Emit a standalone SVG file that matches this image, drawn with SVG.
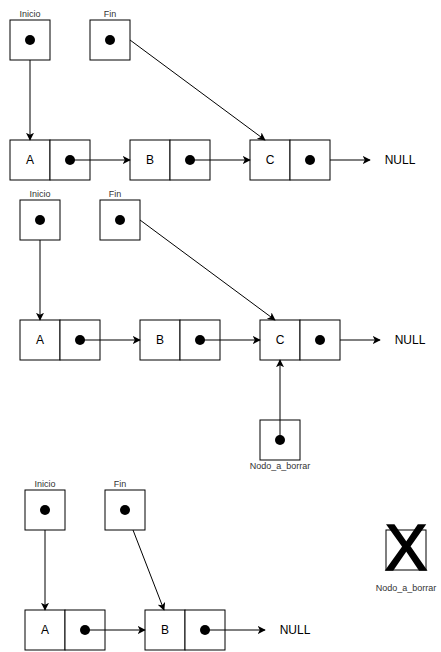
<svg xmlns="http://www.w3.org/2000/svg" width="441" height="652" viewBox="0 0 441 652">
  <style>
    .box { fill: #fff; stroke: #000; stroke-width: 1; }
    .dot { fill: #000; }
    .lbl { font-family: "Liberation Sans", Arial, sans-serif; font-size: 9px; fill: #333; text-anchor: middle; }
    .val { font-family: "Liberation Sans", Arial, sans-serif; font-size: 12px; fill: #000; text-anchor: middle; }
    .edge { fill: none; stroke: #000; stroke-width: 1; marker-end: url(#arrow); }
  </style>
  <defs>
    <marker id="arrow" viewBox="0 0 10 10" refX="9" refY="5" markerWidth="8" markerHeight="8" markerUnits="userSpaceOnUse" orient="auto">
      <path d="M0,0 L10,5 L0,10 L2.5,5 Z" fill="#000"/>
    </marker>
  </defs>

  <!-- list 1 -->
  <g id="inicio1"><rect class="box" x="10" y="20" width="40" height="40"/><circle class="dot" cx="30" cy="40" r="5"/><text class="lbl" x="30" y="17">Inicio</text></g>
  <g id="fin1"><rect class="box" x="90" y="20" width="40" height="40"/><circle class="dot" cx="110" cy="40" r="5"/><text class="lbl" x="110" y="17">Fin</text></g>
  <g id="a1"><rect class="box" x="10" y="140" width="40" height="40"/><rect class="box" x="50" y="140" width="40" height="40"/><text class="val" x="30" y="164">A</text><circle class="dot" cx="70" cy="160" r="5"/></g>
  <g id="b1"><rect class="box" x="130" y="140" width="40" height="40"/><rect class="box" x="170" y="140" width="40" height="40"/><text class="val" x="150" y="164">B</text><circle class="dot" cx="190" cy="160" r="5"/></g>
  <g id="c1"><rect class="box" x="250" y="140" width="40" height="40"/><rect class="box" x="290" y="140" width="40" height="40"/><text class="val" x="270" y="164">C</text><circle class="dot" cx="310" cy="160" r="5"/></g>
  <g id="null1"><text class="val" x="400" y="164">NULL</text></g>

  <!-- list 2 -->
  <g id="inicio2"><rect class="box" x="20" y="200" width="40" height="40"/><circle class="dot" cx="40" cy="220" r="5"/><text class="lbl" x="40" y="197">Inicio</text></g>
  <g id="fin2"><rect class="box" x="100" y="200" width="40" height="40"/><circle class="dot" cx="120" cy="220" r="5"/><text class="lbl" x="115" y="197">Fin</text></g>
  <g id="a2"><rect class="box" x="20" y="320" width="40" height="40"/><rect class="box" x="60" y="320" width="40" height="40"/><text class="val" x="40" y="344">A</text><circle class="dot" cx="80" cy="340" r="5"/></g>
  <g id="b2"><rect class="box" x="140" y="320" width="40" height="40"/><rect class="box" x="180" y="320" width="40" height="40"/><text class="val" x="160" y="344">B</text><circle class="dot" cx="200" cy="340" r="5"/></g>
  <g id="c2"><rect class="box" x="260" y="320" width="40" height="40"/><rect class="box" x="300" y="320" width="40" height="40"/><text class="val" x="280" y="344">C</text><circle class="dot" cx="320" cy="340" r="5"/></g>
  <g id="null2"><text class="val" x="410" y="344">NULL</text></g>
  <g id="borrar2"><rect class="box" x="260" y="420" width="40" height="40"/><circle class="dot" cx="280" cy="440" r="5"/><text class="lbl" x="280" y="469">Nodo_a_borrar</text></g>

  <!-- list 3 -->
  <g id="inicio3"><rect class="box" x="25" y="490" width="40" height="40"/><circle class="dot" cx="45" cy="510" r="5"/><text class="lbl" x="45" y="487">Inicio</text></g>
  <g id="fin3"><rect class="box" x="105" y="490" width="40" height="40"/><circle class="dot" cx="125" cy="510" r="5"/><text class="lbl" x="120" y="487">Fin</text></g>
  <g id="a3"><rect class="box" x="25" y="610" width="40" height="40"/><rect class="box" x="65" y="610" width="40" height="40"/><text class="val" x="45" y="634">A</text><circle class="dot" cx="85" cy="630" r="5"/></g>
  <g id="b3"><rect class="box" x="145" y="610" width="40" height="40"/><rect class="box" x="185" y="610" width="40" height="40"/><text class="val" x="165" y="634">B</text><circle class="dot" cx="205" cy="630" r="5"/></g>
  <g id="null3"><text class="val" x="295" y="634">NULL</text></g>

  <!-- deleted node -->
  <g id="borrado"><rect class="box" x="386" y="530" width="40" height="40"/><text x="406" y="570" font-family="Liberation Sans, Arial, sans-serif" font-size="64" text-anchor="middle" fill="#000" stroke="#000" stroke-width="1.5">X</text><text class="lbl" x="406" y="591">Nodo_a_borrar</text></g>

  <!-- connectors, drawn over the nodes so pointer lines start at the dots -->
  <g id="connectors">
    <!-- list 1 -->
    <line class="edge" x1="30" y1="60" x2="30" y2="140"/>
    <line class="edge" x1="130" y1="40" x2="265" y2="140"/>
    <line class="edge" x1="70" y1="160" x2="130" y2="160"/>
    <line class="edge" x1="190" y1="160" x2="250" y2="160"/>
    <line class="edge" x1="330" y1="160" x2="370" y2="160"/>
    <!-- list 2 -->
    <line class="edge" x1="40" y1="240" x2="40" y2="320"/>
    <line class="edge" x1="140" y1="220" x2="275" y2="320"/>
    <line class="edge" x1="80" y1="340" x2="140" y2="340"/>
    <line class="edge" x1="200" y1="340" x2="260" y2="340"/>
    <line class="edge" x1="340" y1="340" x2="380" y2="340"/>
    <line class="edge" x1="280" y1="440" x2="280" y2="360"/>
    <!-- list 3 -->
    <line class="edge" x1="45" y1="530" x2="45" y2="610"/>
    <line class="edge" x1="133" y1="530" x2="164" y2="610"/>
    <line class="edge" x1="85" y1="630" x2="145" y2="630"/>
    <line class="edge" x1="205" y1="630" x2="265" y2="630"/>
  </g>
</svg>
